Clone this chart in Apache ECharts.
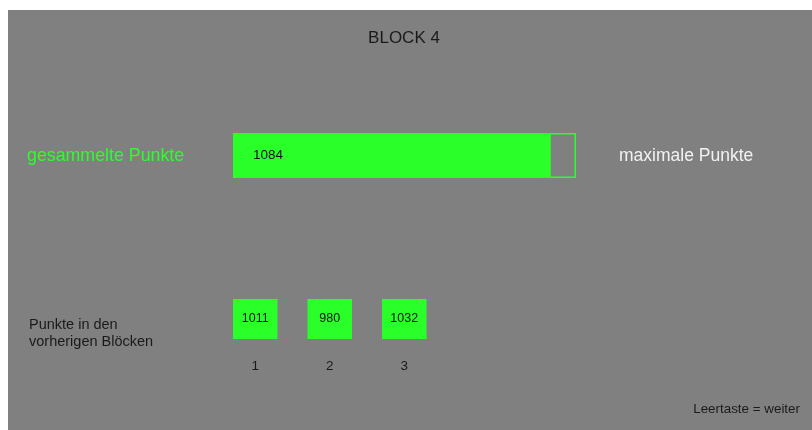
<!DOCTYPE html>
<html>
<head>
<meta charset="utf-8">
<script src="https://cdn.jsdelivr.net/npm/echarts@6/dist/echarts.min.js"></script>
<style>
  html, body { margin: 0; padding: 0; background: #ffffff; }
  #chart { width: 812px; height: 430px; }
</style>
</head>
<body>
<div id="chart"></div>
<script>
// Score screen data
const blockTitle = 'BLOCK 4';
const currentScore = 1084;
const maxScore = 1170;
const previousBlocks = ['1', '2', '3'];
const previousScores = [1011, 980, 1032];

const GREEN = '#2aff2a';
const GRAY = '#808080';
const FONT = '"Liberation Sans", Arial, sans-serif';

const chart = echarts.init(document.getElementById('chart'), null, { renderer: 'canvas' });

chart.setOption({
  backgroundColor: '#ffffff',
  animation: false,
  textStyle: { fontFamily: FONT },
  graphic: [
    { type: 'rect', z: -10, shape: { x: 8, y: 10, width: 804, height: 420 }, style: { fill: GRAY } },
    { type: 'text', x: 404, y: 38, style: { text: blockTitle, fill: '#1a1a1a', font: '17px ' + FONT, align: 'center', verticalAlign: 'middle' } },
    { type: 'text', x: 27, y: 156, style: { text: 'gesammelte Punkte', fill: GREEN, font: '17.8px ' + FONT, verticalAlign: 'middle' } },
    { type: 'text', x: 619, y: 156, style: { text: 'maximale Punkte', fill: '#f2f2f2', font: '17.5px ' + FONT, verticalAlign: 'middle' } },
    { type: 'text', x: 29, y: 316, style: { text: 'Punkte in den\nvorherigen Blöcken', fill: '#1a1a1a', font: '14.5px ' + FONT, lineHeight: 17 } },
    { type: 'text', x: 800, y: 409, style: { text: 'Leertaste = weiter', fill: '#1a1a1a', font: '13.4px ' + FONT, align: 'right', verticalAlign: 'middle' } }
  ],
  grid: [
    { left: 233, top: 133, width: 343, height: 45 },
    { left: 218, top: 299, width: 223.5, height: 40 }
  ],
  xAxis: [
    { gridIndex: 0, type: 'value', min: 0, max: maxScore, show: false },
    {
      gridIndex: 1, type: 'category', data: previousBlocks,
      axisLine: { show: false }, axisTick: { show: false }, splitLine: { show: false },
      axisLabel: { margin: 20, fontSize: 13.5, color: '#1a1a1a', fontFamily: FONT }
    }
  ],
  yAxis: [
    { gridIndex: 0, type: 'category', data: ['gesamt'], show: false },
    { gridIndex: 1, type: 'category', data: ['Punkte'], show: false }
  ],
  series: [
    {
      name: 'maximal',
      type: 'bar',
      xAxisIndex: 0, yAxisIndex: 0,
      barWidth: '100%',
      barGap: '-100%',
      data: [maxScore],
      itemStyle: { color: 'rgba(0,0,0,0)', borderColor: GREEN, borderWidth: 1.5 },
      silent: true
    },
    {
      name: 'gesammelt',
      type: 'bar',
      xAxisIndex: 0, yAxisIndex: 0,
      barWidth: '100%',
      barGap: '-100%',
      data: [currentScore],
      itemStyle: { color: GREEN },
      label: {
        show: true, position: 'insideLeft', distance: 20,
        fontSize: 13.5, color: '#111111', fontFamily: FONT
      }
    },
    {
      name: 'vorherige',
      type: 'scatter',
      xAxisIndex: 1, yAxisIndex: 1,
      symbol: 'rect',
      symbolSize: [44.5, 40],
      data: previousScores.map((v, i) => [previousBlocks[i], 'Punkte', v]),
      itemStyle: { color: GREEN, opacity: 1 },
      label: {
        show: true, position: 'inside',
        formatter: p => String(p.value[2]),
        fontSize: 12.5, color: '#111111', fontFamily: FONT
      }
    }
  ]
});
</script>
</body>
</html>
